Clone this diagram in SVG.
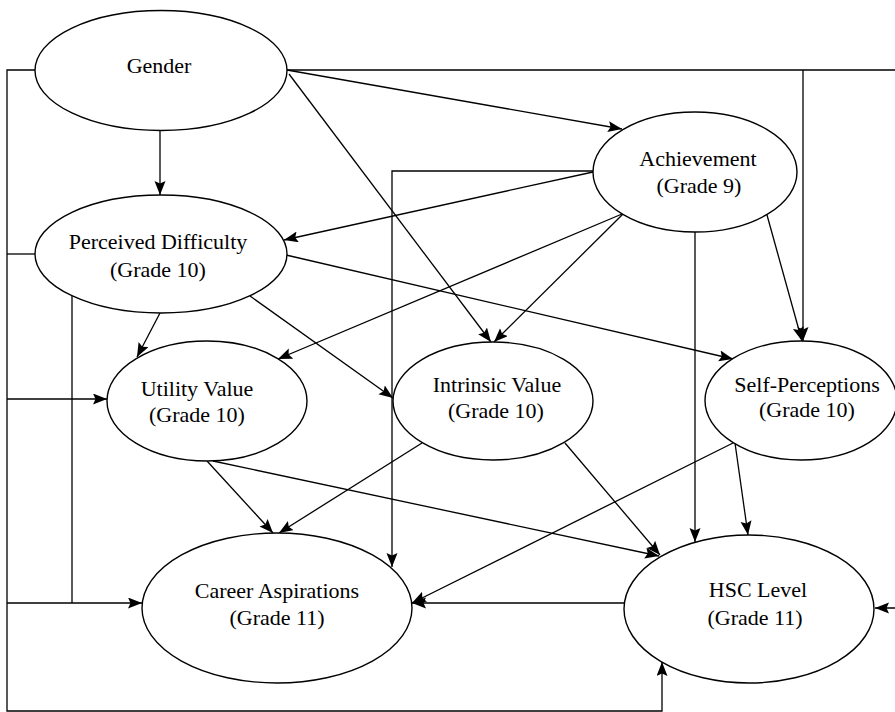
<svg xmlns="http://www.w3.org/2000/svg" width="895" height="712" viewBox="0 0 895 712">
<defs>
<style>
.node ellipse{fill:#fff;stroke:#000;stroke-width:1.4}
.node text{font-family:"Liberation Serif","Times New Roman",serif;font-size:22px;fill:#000;text-anchor:middle}
#connectors path{fill:none;stroke:#000;stroke-width:1.3}
#connectors .a{marker-end:url(#arr)}
</style>
<marker id="arr" markerUnits="userSpaceOnUse" markerWidth="15" markerHeight="12" refX="14" refY="5.5" orient="auto">
<path d="M0,0 L14,5.5 L0,11 L2.5,5.5 z" fill="#000"/>
</marker>
</defs>
<rect width="895" height="712" fill="#fff"/>
<g id="connectors">
<path class="a" d="M160,130 V195"/>
<path class="a" d="M287,70 L622,129"/>
<path class="a" d="M289,74 L491,342"/>
<path class="a" d="M287,70 H896 V608 H875"/>
<path class="a" d="M803,70 V341"/>
<path class="a" d="M593,172 L284,240"/>
<path class="a" d="M622,214 L278,359"/>
<path class="a" d="M623,214 L494,342"/>
<path class="a" d="M695,232 V542"/>
<path class="a" d="M767,215 L802,341"/>
<path class="a" d="M593,171 H392 V567"/>
<path class="a" d="M286,255 L733,359"/>
<path class="a" d="M160,313 L137,357"/>
<path class="a" d="M250,296 L393,398"/>
<path d="M72,296 V603"/>
<path d="M35,254 H7"/>
<path class="a" d="M35,70 H7 V711 H662 V662"/>
<path class="a" d="M7,399 H107"/>
<path class="a" d="M7,603 H142"/>
<path class="a" d="M207,461 L273,533"/>
<path class="a" d="M213,461 L659,556"/>
<path class="a" d="M422,443 L279,533"/>
<path class="a" d="M565,443 L660,555"/>
<path class="a" d="M733,443 L412,603"/>
<path class="a" d="M735,443 L748,535"/>
<path class="a" d="M624,603 H412"/>
</g>
<g id="gender" class="node">
<ellipse cx="161" cy="70.5" rx="126" ry="60"/>
<text x="159" y="73">Gender</text>
</g>
<g id="perceived-difficulty" class="node">
<ellipse cx="161" cy="254" rx="126" ry="59"/>
<text x="158" y="249">Perceived Difficulty</text>
<text x="158" y="277">(Grade 10)</text>
</g>
<g id="achievement" class="node">
<ellipse cx="695" cy="172" rx="102" ry="60"/>
<text x="698" y="166">Achievement</text>
<text x="699" y="193">(Grade 9)</text>
</g>
<g id="utility-value" class="node">
<ellipse cx="207" cy="401" rx="100" ry="60"/>
<text x="197" y="396">Utility Value</text>
<text x="197" y="422">(Grade 10)</text>
</g>
<g id="intrinsic-value" class="node">
<ellipse cx="493" cy="401" rx="100" ry="59"/>
<text x="497" y="392">Intrinsic Value</text>
<text x="496" y="418">(Grade 10)</text>
</g>
<g id="self-perceptions" class="node">
<ellipse cx="801" cy="400.5" rx="96" ry="59.5"/>
<text x="807" y="392">Self-Perceptions</text>
<text x="807" y="417">(Grade 10)</text>
</g>
<g id="career-aspirations" class="node">
<ellipse cx="277" cy="608" rx="135" ry="75"/>
<text x="277" y="598">Career Aspirations</text>
<text x="277" y="625">(Grade 11)</text>
</g>
<g id="hsc-level" class="node">
<ellipse cx="749" cy="609" rx="125" ry="74"/>
<text x="758" y="597">HSC Level</text>
<text x="755" y="625">(Grade 11)</text>
</g>
</svg>
